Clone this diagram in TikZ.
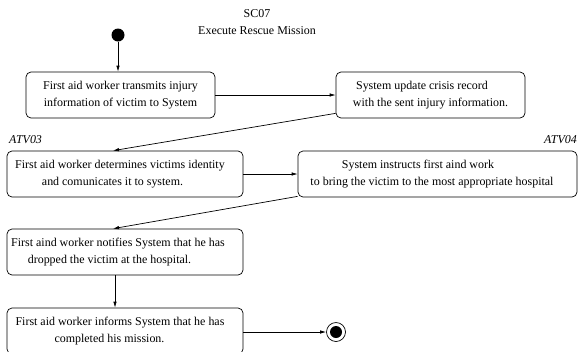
\documentclass[tikz,border=0pt]{standalone}
\usepackage{fontspec}
\setmainfont{Liberation Serif}
\usetikzlibrary{arrows.meta}
\begin{document}
\begin{tikzpicture}[x=1bp,y=-1bp,
  every node/.style={font=\fontsize{12}{17.5}\selectfont},
  actbox/.style={draw, rounded corners=5bp, line width=0.7bp, align=center, inner sep=0pt, minimum height=46bp},
  flow/.style={line width=0.7bp, -{Latex[length=6bp,width=3.5bp]}},
  lbl/.style={font=\fontsize{12}{14}\selectfont\itshape, inner sep=0pt}]
\useasboundingbox (0,0) rectangle (578,351);
\node[inner sep=0pt, align=center, font=\fontsize{12}{17.5}\selectfont] (title) at (257,22) {SC07\\Execute Rescue Mission};
\node[circle, fill, inner sep=0pt, minimum size=13bp] (start) at (118,35) {};
\node[actbox, minimum width=189bp] (b1) at (120.5,95) {First aid worker transmits injury\\information of victim to System};
\node[actbox, minimum width=189bp] (b2) at (430.5,95) {System update crisis record\hspace*{17bp}\\with the sent injury information.};
\node[actbox, minimum width=236bp] (b3) at (125,174) {First aid worker determines victims identity\hspace*{10bp}\\and comunicates it to system.\hspace*{25bp}};
\node[actbox, minimum width=279bp] (b4) at (437.5,174) {System instructs first aind work\hspace*{39bp}\\to bring the victim to the most appropriate hospital\hspace*{11bp}};
\node[actbox, minimum width=236bp] (b5) at (125,252) {First aind worker notifies System that he has\hspace*{14bp}\\dropped the victim at the hospital.\hspace*{31bp}};
\node[actbox, minimum width=236bp] (b6) at (125,331) {First aid worker informs System that he has\hspace*{10bp}\\completed his mission.\hspace*{31bp}};
\node[circle, draw, line width=0.7bp, inner sep=0pt, minimum size=19bp] (end) at (336,332) {};
\node[circle, fill, inner sep=0pt, minimum size=12bp] (endin) at (end.center) {};
\node[lbl, anchor=base west] (atv03) at (9,143) {ATV03};
\node[lbl, anchor=base east] (atv04) at (577,143) {ATV04};
\draw[flow] (start) -- (b1.north -| start);
\draw[flow] (b1.east) -- (b2.west);
\coordinate (b2out) at ([yshift=5bp]b2.south west);
\draw[flow] (b2out) -- ([xshift=-12bp]b3.north);
\draw[flow] (b3.east) -- (b4.west);
\coordinate (b4out) at ([yshift=1bp]b4.south west);
\draw[flow] (b4out) -- ([xshift=-12bp]b5.north);
\draw[flow] ([xshift=-10bp]b5.south) -- ([xshift=-10bp]b6.north);
\draw[flow] (b6.east |- end) -- (end.west);
\end{tikzpicture}
\end{document}
